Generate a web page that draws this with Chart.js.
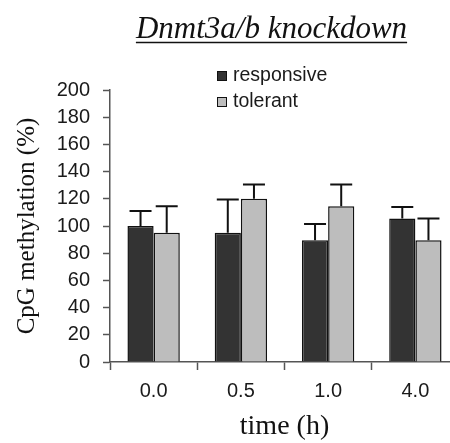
<!DOCTYPE html>
<html>
<head>
<meta charset="utf-8">
<script src="https://cdn.jsdelivr.net/npm/chart.js@4.4.0/dist/chart.umd.min.js"></script>
<style>
  html, body { margin: 0; padding: 0; background: #fff; overflow: hidden; }
  canvas { display: block; }
</style>
</head>
<body>
<canvas id="myChart" width="460" height="443"></canvas>
<script>
// data
const times = ["0.0", "0.5", "1.0", "4.0"];
const responsive = [100, 95, 89.5, 105.5];
const tolerant = [95, 120, 114.5, 89.5];
const responsiveErr = [11, 24.5, 12, 8.5];
const tolerantErr = [19.5, 10.5, 16, 16];
const seriesNames = ["responsive", "tolerant"];
const chartTitle = "Dnmt3a/b knockdown";

// error bars (upper only)
const errorBars = {
  id: "errorBars",
  afterDatasetsDraw(chart) {
    const ctx = chart.ctx;
    const y = chart.scales.y;
    ctx.save();
    ctx.strokeStyle = "#111";
    ctx.lineWidth = 2;
    chart.data.datasets.forEach((ds, i) => {
      chart.getDatasetMeta(i).data.forEach((bar, j) => {
        const top = y.getPixelForValue(ds.data[j] + ds.err[j]);
        const half = bar.width * 0.42;
        ctx.beginPath();
        ctx.moveTo(bar.x, bar.y);
        ctx.lineTo(bar.x, top);
        ctx.moveTo(bar.x - half, top);
        ctx.lineTo(bar.x + half, top);
        ctx.stroke();
      });
    });
    ctx.restore();
  }
};

// underlined title + stacked legend
const decor = {
  id: "decor",
  afterDraw(chart) {
    const ctx = chart.ctx;
    ctx.save();
    ctx.fillStyle = "#111";
    ctx.font = "italic 31px 'Liberation Serif'";
    ctx.textAlign = "center";
    ctx.textBaseline = "alphabetic";
    ctx.fillText(chartTitle, 271.5, 38);
    const w = ctx.measureText(chartTitle).width;
    ctx.strokeStyle = "#111";
    ctx.lineWidth = 1.5;
    ctx.beginPath();
    ctx.moveTo(271.5 - w / 2, 42.5);
    ctx.lineTo(271.5 + w / 2, 42.5);
    ctx.stroke();

    ctx.font = "19.5px 'Liberation Sans'";
    ctx.textAlign = "left";
    ctx.textBaseline = "middle";
    ctx.lineWidth = 1;
    chart.data.datasets.forEach((ds, i) => {
      const yy = 71 + i * 26;
      ctx.fillStyle = ds.backgroundColor;
      ctx.fillRect(217, yy, 9, 9);
      ctx.strokeStyle = "#111";
      ctx.strokeRect(217.5, yy + 0.5, 9, 9);
      ctx.fillStyle = "#1a1a1a";
      ctx.fillText(ds.label, 233, yy + 5);
    });
    ctx.restore();
  }
};

const data = {
  labels: times,
  datasets: [
    {
      label: seriesNames[0],
      data: responsive,
      err: responsiveErr,
      backgroundColor: "#333333",
      borderColor: "#111",
      borderWidth: 1.5,
      categoryPercentage: 0.6,
      barPercentage: 1.0,
    },
    {
      label: seriesNames[1],
      data: tolerant,
      err: tolerantErr,
      backgroundColor: "#bdbdbd",
      borderColor: "#111",
      borderWidth: 1.5,
      categoryPercentage: 0.6,
      barPercentage: 1.0,
    },
  ],
};

const config = {
  type: "bar",
  data: data,
  options: {
    responsive: false,
    animation: false,
    layout: { padding: { top: 90, right: 1, left: 0, bottom: 0 } },
    plugins: {
      legend: { display: false },
      tooltip: { enabled: false },
      title: { display: false },
    },
    scales: {
      x: {
        grid: { drawOnChartArea: false, offset: true, tickLength: 8, tickColor: "#555", tickWidth: 1.5 },
        border: { color: "#555", width: 1.5 },
        ticks: { color: "#1a1a1a", font: { family: "Liberation Sans", size: 20 }, padding: 9 },
        title: {
          display: true,
          text: "time (h)",
          color: "#111",
          font: { family: "Liberation Serif", size: 28 },
          padding: 0,
        },
        afterFit: (s) => { s.height = 81; },
      },
      y: {
        min: 0,
        max: 200,
        grid: { drawOnChartArea: false, tickLength: 7, tickColor: "#555", tickWidth: 1.5 },
        border: { color: "#555", width: 1.5 },
        ticks: { stepSize: 20, color: "#1a1a1a", font: { family: "Liberation Sans", size: 20 }, padding: 13 },
        title: {
          display: true,
          text: "CpG methylation (%)",
          color: "#111",
          font: { family: "Liberation Serif", size: 25 },
          padding: { top: 12, bottom: 0 },
        },
        afterFit: (s) => { s.width = 110; },
      },
    },
  },
  plugins: [errorBars, decor],
};

const myChart = new Chart(document.getElementById("myChart"), config);
</script>
</body>
</html>
